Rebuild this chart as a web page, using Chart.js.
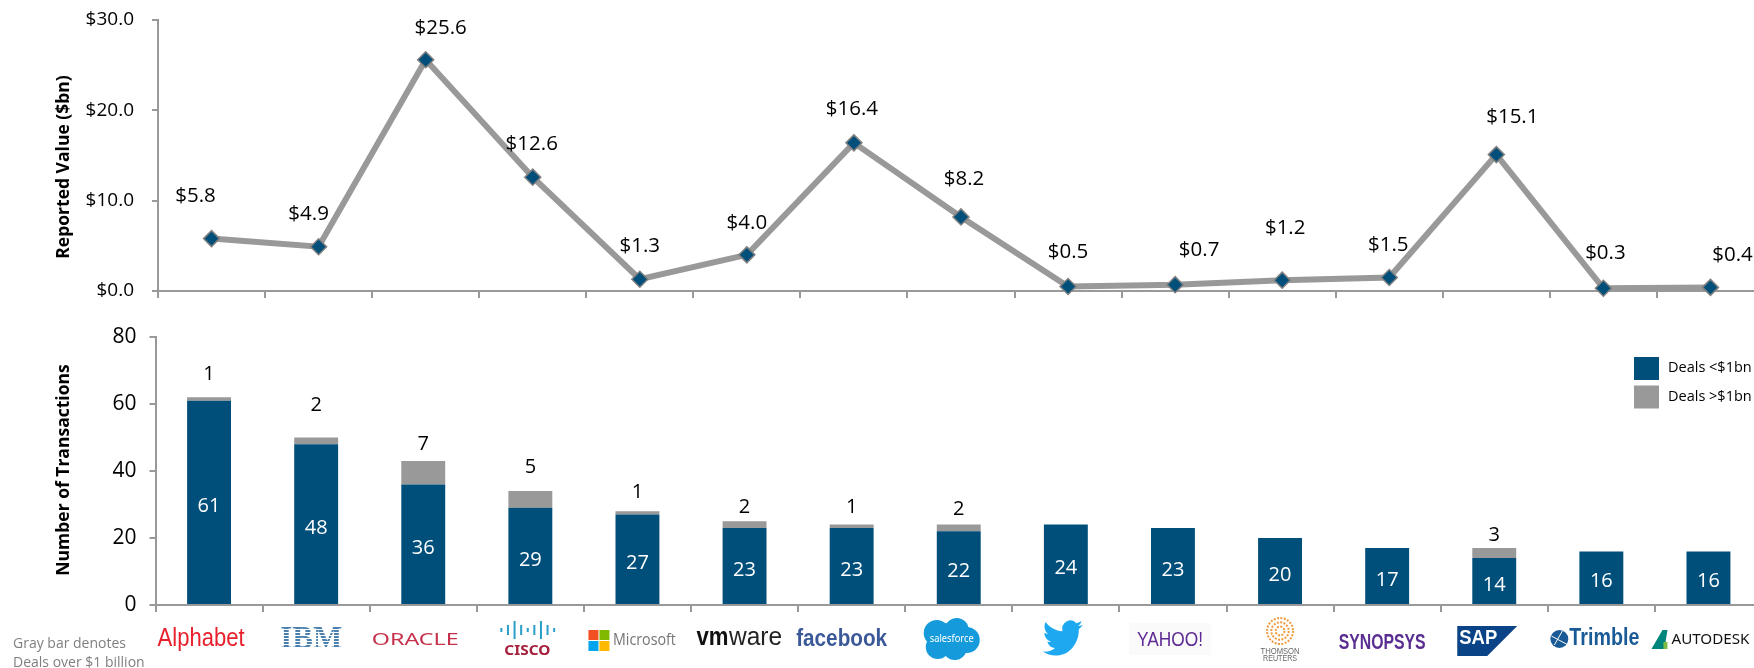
<!DOCTYPE html>
<html lang="en">
<head>
<meta charset="UTF-8">
<title>Reported value and number of transactions</title>
<script src="https://cdn.jsdelivr.net/npm/chart.js"></script>
<style>
    html, body { margin: 0; padding: 0; width: 1754px; height: 668px; overflow: hidden; background: #fff; }
    canvas { position: absolute; }
    #top-chart { left: 0; top: 0; }
    #bottom-chart { left: 0; top: 320px; }
    #note { position: absolute; left: 13px; top: 633px; font: 14px/19px "Open Sans", sans-serif; color: #7f7f7f; }
</style>
</head>
<body>
<canvas id="top-chart" width="1764" height="320"></canvas>
<canvas id="bottom-chart" width="1762" height="348"></canvas>
<div id="note">Gray bar denotes<br>Deals over $1 billion</div>
<script>
const categories = ['Alphabet', 'IBM', 'ORACLE', 'CISCO', 'Microsoft', 'vmware', 'facebook', 'salesforce', 'twitter', 'YAHOO!', 'THOMSON REUTERS', 'SYNOPSYS', 'SAP', 'Trimble', 'AUTODESK'];
const reportedValue = [5.8, 4.9, 25.6, 12.6, 1.3, 4.0, 16.4, 8.2, 0.5, 0.7, 1.2, 1.5, 15.1, 0.3, 0.4];
const dealsUnder = [61, 48, 36, 29, 27, 23, 23, 22, 24, 23, 20, 17, 14, 16, 16];
const dealsOver = [1, 2, 7, 5, 1, 2, 1, 2, 0, 0, 0, 0, 3, 0, 0];
const valueTicks = [0, 10, 20, 30];
const countTicks = [0, 20, 40, 60, 80];

const NAVY = '#004f7a';
const GRAY = '#999999';
const FONT = '"Open Sans", sans-serif';

// label nudges, the source chart placed these by hand
const valueLabelOffset = [[-16, -42], [-10, -33], [15, -32], [-1, -33], [0, -33], [0, -32], [-2, -34], [3, -38], [0, -34], [24, -35], [3, -52], [-1, -32], [16, -37], [2, -35], [22, -32]];
const overLabelOffset = [-23, -32, -17, -24, -19, -14, -17, -15, 0, 0, 0, 0, -13, 0, 0];
const logoShift = [-8, -5, -8, -3, -5, -5, -10, -7, -3, -3, 0, -5, -7, -7, -8];

function axisScale(ticksList, max, labelFormat, labelSize, labelGap, boxWidth) {
    return {
        min: 0,
        max: max,
        afterBuildTicks: function (axis) { axis.ticks = ticksList.map(v => ({ value: v })); },
        afterFit: function (axis) {
            axis.width = boxWidth;
            axis.paddingTop = 0;
            axis.paddingBottom = 0;
        },
        border: { color: GRAY, width: 2 },
        grid: { drawOnChartArea: false, color: GRAY, lineWidth: 2, tickLength: 6, tickColor: GRAY },
        ticks: {
            color: '#000',
            padding: labelGap,
            font: { family: FONT, size: labelSize },
            callback: labelFormat
        }
    };
}

function categoryScale(height) {
    return {
        offset: true,
        afterFit: function (axis) {
            axis.height = height;
            axis.paddingLeft = 0;
            axis.paddingRight = 0;
        },
        border: { color: GRAY, width: 2 },
        grid: { offset: true, drawOnChartArea: false, color: GRAY, lineWidth: 2, tickLength: 7 },
        ticks: { display: false, autoSkip: false }
    };
}

// the top title is not centred on its axis, so the scale title can't be used
function sideTitle(text, x, y) {
    return {
        id: 'sideTitle',
        afterDraw(chart) {
            const ctx = chart.ctx;
            ctx.save();
            ctx.translate(x, y);
            ctx.rotate(-Math.PI / 2);
            ctx.font = 'bold 17.5px ' + FONT;
            ctx.fillStyle = '#000';
            ctx.textAlign = 'center';
            ctx.textBaseline = 'middle';
            ctx.fillText(text, 0, 0);
            ctx.restore();
        }
    };
}

const valueLabels = {
    id: 'valueLabels',
    afterDatasetsDraw(chart) {
        const ctx = chart.ctx;
        const pts = chart.getDatasetMeta(0).data;
        ctx.save();
        ctx.font = '20.5px ' + FONT;
        ctx.fillStyle = '#000';
        ctx.textAlign = 'center';
        ctx.textBaseline = 'middle';
        pts.forEach(function (p, i) {
            ctx.fillText('$' + reportedValue[i].toFixed(1), p.x + valueLabelOffset[i][0], p.y + valueLabelOffset[i][1]);
        });
        ctx.restore();
    }
};

const barLabels = {
    id: 'barLabels',
    afterDatasetsDraw(chart) {
        const ctx = chart.ctx;
        const lower = chart.getDatasetMeta(0).data;
        const upper = chart.getDatasetMeta(1).data;
        ctx.save();
        ctx.font = '20px ' + FONT;
        ctx.textAlign = 'center';
        ctx.textBaseline = 'middle';
        lower.forEach(function (b, i) {
            ctx.fillStyle = '#fff';
            ctx.fillText(String(dealsUnder[i]), b.x, (b.y + b.base) / 2 + 4);
            if (dealsOver[i] > 0) {
                ctx.fillStyle = '#000';
                ctx.fillText(String(dealsOver[i]), b.x, upper[i].y + overLabelOffset[i]);
            }
        });
        ctx.restore();
    }
};

const sideLegend = {
    id: 'sideLegend',
    afterDraw(chart) {
        const ctx = chart.ctx;
        ctx.save();
        ctx.font = '14.5px ' + FONT;
        ctx.textBaseline = 'middle';
        chart.data.datasets.forEach(function (ds, i) {
            const y = 37 + i * 28.5;
            ctx.fillStyle = ds.backgroundColor;
            ctx.fillRect(1634, y, 25, 23);
            ctx.fillStyle = '#000';
            ctx.fillText(ds.label, 1668, y + 11);
        });
        ctx.restore();
    }
};

// text stretched to the width the logo takes in the picture
function fitText(ctx, text, cx, cy, width, font, color) {
    ctx.save();
    ctx.font = font;
    ctx.fillStyle = color;
    ctx.textAlign = 'center';
    ctx.textBaseline = 'middle';
    const w = ctx.measureText(text).width;
    ctx.translate(cx, cy);
    ctx.scale(width / w, 1);
    ctx.fillText(text, 0, 0);
    ctx.restore();
}

const BIRD = new Path2D('M23.953 4.57a10 10 0 01-2.825.775 4.958 4.958 0 002.163-2.723c-.951.555-2.005.959-3.127 1.184a4.92 4.92 0 00-8.384 4.482C7.69 8.095 4.067 6.13 1.64 3.162a4.822 4.822 0 00-.666 2.475c0 1.71.87 3.213 2.188 4.096a4.904 4.904 0 01-2.228-.616v.06a4.923 4.923 0 003.946 4.827 4.996 4.996 0 01-2.212.085 4.936 4.936 0 004.604 3.417 9.867 9.867 0 01-6.102 2.105c-.39 0-.779-.023-1.17-.067a13.995 13.995 0 007.557 2.209c9.053 0 13.998-7.496 13.998-13.985 0-.21 0-.42-.015-.63A9.935 9.935 0 0024 4.59z');

const logoDraw = {
    'Alphabet': function (ctx, x, y) {
        fitText(ctx, 'Alphabet', x, y, 87, '26px "Liberation Sans Narrow", sans-serif', '#e8202c');
    },
    'IBM': function (ctx, x, y) {
        fitText(ctx, 'IBM', x, y + 1, 62, 'bold 31px "Liberation Serif", serif', '#4a80ad');
        ctx.fillStyle = '#fff';
        for (let i = 0; i < 8; i++) ctx.fillRect(x - 33, y - 10 + i * 3, 66, 1);
    },
    'ORACLE': function (ctx, x, y) {
        fitText(ctx, 'ORACLE', x, y + 1, 87, '16px "Noto Sans", sans-serif', '#c5304a');
    },
    'CISCO': function (ctx, x, y) {
        ctx.fillStyle = '#2a9fc9';
        [4, 7, 11, 7, 4, 7, 11, 7, 4].forEach(function (h, i) {
            ctx.fillRect(x - 27 + i * 6.6, y - 7 - h, 2, h * 2 - 4);
        });
        fitText(ctx, 'CISCO', x, y + 12, 46, 'bold 14px "Noto Sans", sans-serif', '#a5203c');
    },
    'Microsoft': function (ctx, x, y) {
        const left = x - 44, top = y - 9;
        ctx.fillStyle = '#f25022'; ctx.fillRect(left, top, 10, 10);
        ctx.fillStyle = '#7fba00'; ctx.fillRect(left + 11, top, 10, 10);
        ctx.fillStyle = '#00a4ef'; ctx.fillRect(left, top + 11, 10, 10);
        ctx.fillStyle = '#ffb900'; ctx.fillRect(left + 11, top + 11, 10, 10);
        fitText(ctx, 'Microsoft', x + 12, y + 1, 63, '17px "Open Sans", sans-serif', '#757575');
    },
    'vmware': function (ctx, x, y) {
        fitText(ctx, 'vm', x - 27, y - 1, 32, 'bold 25px "Liberation Sans", sans-serif', '#111');
        fitText(ctx, 'ware', x + 16, y - 1, 53, '25px "Liberation Sans", sans-serif', '#222');
    },
    'facebook': function (ctx, x, y) {
        fitText(ctx, 'facebook', x, y, 91, 'bold 24px "Liberation Sans Narrow", sans-serif', '#3b5998');
    },
    'salesforce': function (ctx, x, y) {
        ctx.fillStyle = '#159bdc';
        [[-15, -6, 13], [5, -9, 12], [15, 1, 13], [-14, 8, 12], [3, 9, 12], [-3, 0, 16]].forEach(function (c) {
            ctx.beginPath();
            ctx.arc(x + c[0], y + c[1], c[2], 0, Math.PI * 2);
            ctx.fill();
        });
        fitText(ctx, 'salesforce', x, y, 44, '10px "Noto Sans", sans-serif', '#fff');
    },
    'twitter': function (ctx, x, y) {
        ctx.save();
        ctx.translate(x - 20, y - 19);
        ctx.scale(40 / 24, 36 / 20);
        ctx.fillStyle = '#1da8f0';
        ctx.translate(0, -2);
        ctx.fill(BIRD);
        ctx.restore();
    },
    'YAHOO!': function (ctx, x, y) {
        ctx.fillStyle = '#fafafa';
        ctx.fillRect(x - 41, y - 16, 82, 32);
        fitText(ctx, 'YAHOO!', x, y + 1, 66, '20px "Liberation Sans Narrow", sans-serif', '#5f2b95');
    },
    'THOMSON REUTERS': function (ctx, x, y) {
        ctx.strokeStyle = '#ef9a3d';
        ctx.lineWidth = 2;
        [13, 9, 5].forEach(function (r, k) {
            ctx.setLineDash([2, 1.4]);
            ctx.beginPath();
            ctx.arc(x, y - 8, r - k * 0.3, 0, Math.PI * 2);
            ctx.stroke();
        });
        ctx.setLineDash([]);
        fitText(ctx, 'THOMSON', x, y + 13, 39, '9px "Liberation Sans Narrow", sans-serif', '#666');
        fitText(ctx, 'REUTERS', x, y + 20, 34, '9px "Liberation Sans Narrow", sans-serif', '#666');
    },
    'SYNOPSYS': function (ctx, x, y) {
        fitText(ctx, 'SYNOPSYS', x, y + 4, 87, 'bold 22px "Liberation Sans Narrow", sans-serif', '#5a2d91');
    },
    'SAP': function (ctx, x, y) {
        ctx.fillStyle = '#0b4486';
        ctx.beginPath();
        ctx.moveTo(x - 30, y - 13);
        ctx.lineTo(x + 30, y - 13);
        ctx.lineTo(x, y + 17);
        ctx.lineTo(x - 30, y + 17);
        ctx.closePath();
        ctx.fill();
        fitText(ctx, 'SAP', x - 9, y - 1, 38, 'bold 20px "Liberation Sans", sans-serif', '#fff');
    },
    'Trimble': function (ctx, x, y) {
        ctx.fillStyle = '#1a5a96';
        ctx.beginPath();
        ctx.arc(x - 35, y, 9, 0, Math.PI * 2);
        ctx.fill();
        ctx.strokeStyle = '#fff';
        ctx.lineWidth = 1;
        ctx.beginPath();
        ctx.moveTo(x - 43, y - 3);
        ctx.lineTo(x - 28, y + 5);
        ctx.moveTo(x - 40, y + 6);
        ctx.lineTo(x - 32, y - 8);
        ctx.stroke();
        fitText(ctx, 'Trimble', x + 10, y, 70, 'bold 23px "Liberation Sans Narrow", sans-serif', '#1a5a96');
    },
    'AUTODESK': function (ctx, x, y) {
        ctx.fillStyle = '#00857c';
        ctx.beginPath();
        ctx.moveTo(x - 49, y + 10);
        ctx.lineTo(x - 38, y - 9);
        ctx.lineTo(x - 33, y - 9);
        ctx.lineTo(x - 36, y + 10);
        ctx.closePath();
        ctx.fill();
        ctx.fillStyle = '#7dbb42';
        ctx.fillRect(x - 37, y + 3, 4, 7);
        fitText(ctx, 'AUTODESK', x + 10, y + 1, 78, '14px "Noto Sans", sans-serif', '#111');
    }
};

const logoRow = {
    id: 'logoRow',
    afterDraw(chart) {
        const xAxis = chart.scales.x;
        const y = chart.chartArea.bottom + 34;
        const ctx = chart.ctx;
        categories.forEach(function (name, i) {
            ctx.save();
            logoDraw[name](ctx, xAxis.getPixelForValue(i) + logoShift[i], y);
            ctx.restore();
        });
    }
};

Chart.defaults.animation = false;
Chart.defaults.responsive = false;

new Chart(document.getElementById('top-chart'), {
    type: 'line',
    data: {
        labels: categories,
        datasets: [{
            label: 'Reported Value ($bn)',
            data: reportedValue,
            borderColor: GRAY,
            borderWidth: 6,
            tension: 0,
            clip: false,
            pointStyle: 'rectRot',
            pointRadius: 8,
            pointBackgroundColor: NAVY,
            pointBorderColor: '#808080',
            pointBorderWidth: 1.5
        }]
    },
    options: {
        layout: { autoPadding: false, padding: { top: 20, right: 0, left: 0, bottom: 0 } },
        plugins: { legend: { display: false }, tooltip: { enabled: false } },
        scales: {
            x: categoryScale(29),
            y: axisScale(valueTicks, 30, v => '$' + v.toFixed(1), 19, 18, 158)
        }
    },
    plugins: [valueLabels, sideTitle('Reported Value ($bn)', 64, 167)]
});

new Chart(document.getElementById('bottom-chart'), {
    type: 'bar',
    data: {
        labels: categories,
        datasets: [
            { label: 'Deals <$1bn', data: dealsUnder, backgroundColor: NAVY, barPercentage: 0.41, categoryPercentage: 1 },
            { label: 'Deals >$1bn', data: dealsOver, backgroundColor: GRAY, barPercentage: 0.41, categoryPercentage: 1 }
        ]
    },
    options: {
        layout: { autoPadding: false, padding: { top: 17, right: 0, left: 0, bottom: 0 } },
        plugins: { legend: { display: false }, tooltip: { enabled: false } },
        scales: {
            x: Object.assign(categoryScale(63), { stacked: true }),
            y: Object.assign(axisScale(countTicks, 80, v => String(v), 21, 13, 155.5), { stacked: true })
        }
    },
    plugins: [barLabels, sideLegend, logoRow, sideTitle('Number of Transactions', 64, 150)]
});
</script>
</body>
</html>
